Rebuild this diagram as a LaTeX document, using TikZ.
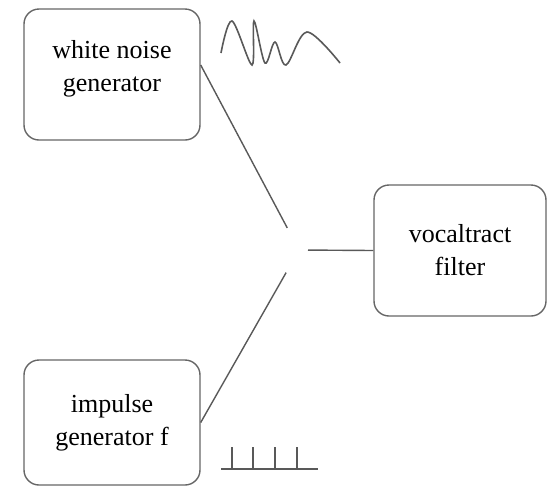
\documentclass[tikz,border=0pt]{standalone}
\usepackage{fontspec}
\setmainfont{Liberation Serif}
\usetikzlibrary{positioning}

\begin{document}
\begin{tikzpicture}[x=0.5pt, y=-0.5pt,
  box/.style={draw=black!60, line width=0.7pt, rounded corners=7.5pt, align=center,
    font=\fontsize{13}{16.5}\selectfont, minimum width=88pt, minimum height=65.5pt, inner sep=0pt},
  wire/.style={draw=black!65, line width=0.7pt},
  sig/.style={draw=black!65, line width=0.8pt}]
\useasboundingbox (0,0) rectangle (547,489);
\node[box, text depth=9pt] (noise) at (112,74.5) {white noise\\generator};
\node[box, minimum height=62.5pt] (impulse) at (112,422.5) {impulse\\generator f};
\node[box, minimum width=86pt] (filter) at (460,250.5) {vocaltract\\filter};
\coordinate (mix) at (299,250);
\draw[wire, shorten >=12.5pt] ([yshift=4.75pt]noise.east) -- (mix);
\draw[wire, shorten >=13pt] (impulse.east) -- (mix);
\draw[wire, shorten <=4.5pt] (mix) -- (filter.west);
% noise signal
\draw[sig] plot[smooth, tension=0.55] coordinates {(221,53) (232,21) (252,65) (254,21) (265,63) (275,42) (286,65) (307,32) (340,63)};
% impulse train
\draw[sig] (221,469) -- (318,469);
\foreach \x in {232,253,275,297}
  \draw[sig] (\x,469) -- (\x,447);
\end{tikzpicture}
\end{document}
